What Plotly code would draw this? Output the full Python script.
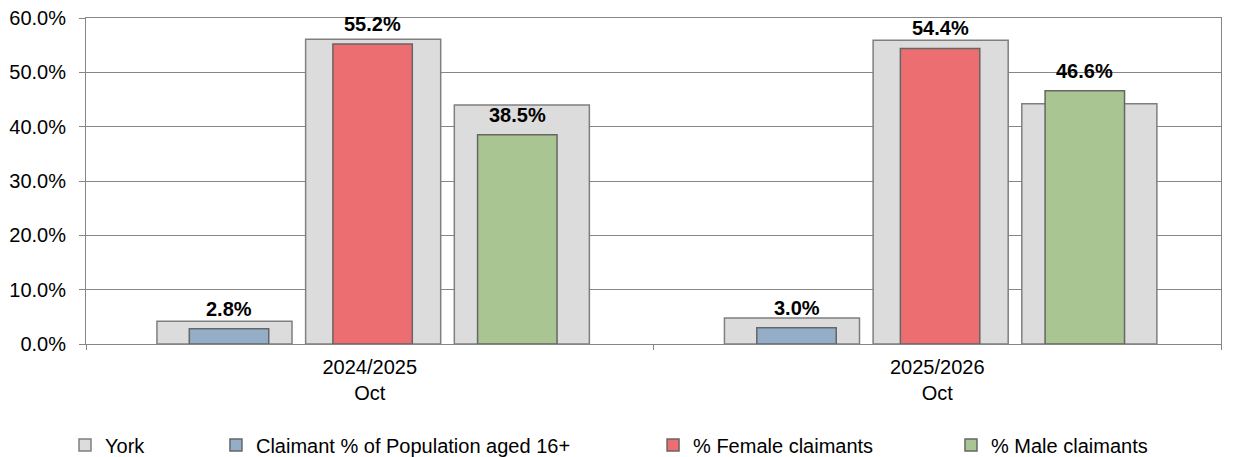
import plotly.graph_objects as go

categories = ["2024/2025<br>Oct", "2025/2026<br>Oct"]
york_pop = [4.2, 4.8]
york_female = [56.1, 55.9]
york_male = [44.0, 44.2]
claimant_pct = [2.8, 3.0]
female_pct = [55.2, 54.4]
male_pct = [38.5, 46.6]
y_ticks = [0, 10, 20, 30, 40, 50, 60]
y_tick_labels = ["0.0%", "10.0%", "20.0%", "30.0%", "40.0%", "50.0%", "60.0%"]

FONT = "Liberation Sans, Arial, sans-serif"
GREY = "#dcdcdc"
EDGE = "#7f7f7f"
DARK_EDGE = "#666666"

fig = go.Figure()

# York background bars
grey_w = 0.238
grey_offsets = [-0.375, -0.113, 0.149]
for i, (vals, off) in enumerate(zip([york_pop, york_female, york_male], grey_offsets)):
    fig.add_trace(go.Bar(
        x=categories, y=vals, name="York",
        width=[grey_w] * len(vals), offset=off,
        marker=dict(color=GREY, line=dict(color=EDGE, width=1.5)),
        showlegend=(i == 0), legendgroup="york", legend="legend",
        hoverinfo="skip",
    ))

col_w = 0.14
col_offsets = [-0.318, -0.065, 0.19]
series = [
    ("Claimant % of Population aged 16+", claimant_pct, "#94aec8", "legend2"),
    ("% Female claimants", female_pct, "#ec6e70", "legend3"),
    ("% Male claimants", male_pct, "#a8c592", "legend4"),
]
for (name, vals, color, lg), off in zip(series, col_offsets):
    fig.add_trace(go.Bar(
        x=categories, y=vals, name=name,
        width=[col_w] * len(vals), offset=off,
        marker=dict(color=color, line=dict(color=DARK_EDGE, width=1.5)),
        legend=lg,
    ))
    for i, v in enumerate(vals):
        fig.add_annotation(
            x=i + off + col_w / 2, y=v, xref="x", yref="y",
            text=f"<b>{v:.1f}%</b>", showarrow=False,
            yanchor="middle", yshift=20,
            font=dict(family=FONT, size=20, color="#000000"),
        )

legend_common = dict(
    orientation="h", yanchor="middle", y=-0.31, xanchor="left",
    font=dict(family=FONT, size=20, color="#000000"),
    bgcolor="rgba(0,0,0,0)", borderwidth=0,
)
# page body has an 8px default margin, so the figure is sized to fit the window
fig.update_layout(
    barmode="overlay",
    width=1227, height=449,
    margin=dict(l=78, r=14, t=10, b=113, autoexpand=False),
    plot_bgcolor="#ffffff", paper_bgcolor="#ffffff",
    font=dict(family=FONT, size=20, color="#000000"),
    legend=dict(x=-0.0185, **legend_common),
    legend2=dict(x=0.1145, **legend_common),
    legend3=dict(x=0.4996, **legend_common),
    legend4=dict(x=0.7621, **legend_common),
)
fig.update_xaxes(
    type="category", range=[-0.5, 1.5],
    showline=True, linecolor="#868686", linewidth=1, mirror=True,
    ticks="outside", tickson="boundaries", ticklen=5, tickcolor="#868686",
    ticklabelstandoff=5, ticklabeloverflow="allow",
    showgrid=False,
    tickfont=dict(family=FONT, size=20, color="#000000"),
)
fig.update_yaxes(
    range=[0, 60], tickvals=y_ticks, ticktext=y_tick_labels,
    showline=True, linecolor="#868686", linewidth=1, mirror=True,
    ticks="outside", ticklen=6, tickcolor="#868686",
    ticklabelstandoff=9, ticklabeloverflow="allow",
    showgrid=True, gridcolor="#868686", gridwidth=1,
    zeroline=False,
    tickfont=dict(family=FONT, size=20, color="#000000"),
)

fig.write_html("out.html")
